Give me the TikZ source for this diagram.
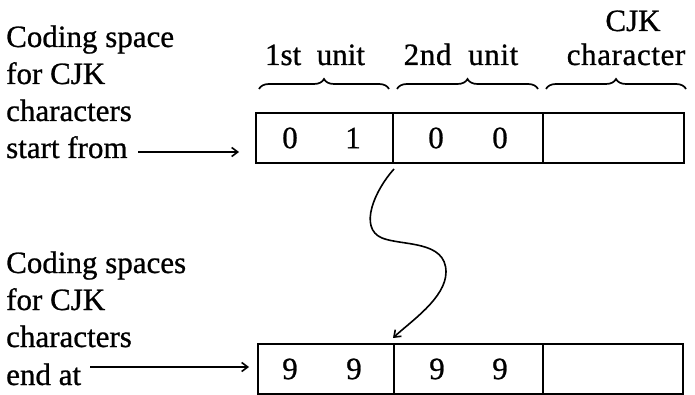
\documentclass[tikz,border=0pt]{standalone}
\usepackage{fontspec}
\setmainfont[FakeBold=0.8]{Liberation Serif}
\usetikzlibrary{arrows.meta,decorations.pathreplacing}

\begin{document}
\begin{tikzpicture}[x=1pt,y=-1pt,
  txt/.style={inner sep=0pt,font=\fontsize{31}{37}\selectfont},
  cell/.style={draw,line width=2pt,inner sep=0pt,minimum height=50pt},
  arr/.style={line width=1.6pt,-{Straight Barb[length=6pt,width=9pt,line width=1.6pt]}},
  ubrace/.style={line width=1.7pt,decorate,decoration={brace,amplitude=10pt}}
]
\useasboundingbox (0,0) rectangle (695,395);

% left-hand captions
\node[txt,anchor=base west] (s1) at (6,47)  {Coding space};
\node[txt,anchor=base west] (s2) at (6,84)  {for CJK};
\node[txt,anchor=base west] (s3) at (6,121) {characters};
\node[txt,anchor=base west] (s4) at (6,158) {start from};

\node[txt,anchor=base west] (e1) at (6,273) {Coding spaces};
\node[txt,anchor=base west] (e2) at (6,310) {for CJK};
\node[txt,anchor=base west] (e3) at (6,347) {characters};
\node[txt,anchor=base west] (e4) at (6,385) {end at};

% upper row of cells
\node[cell,minimum width=137pt] (t1) at (324.5,138) {};
\node[cell,minimum width=150pt] (t2) at (468,138) {};
\node[cell,minimum width=141pt] (t3) at (613.5,138) {};
\node[txt] (d1) at (290,138) {0};
\node[txt] (d2) at (353,138) {1};
\node[txt] (d3) at (436,138) {0};
\node[txt] (d4) at (500,138) {0};

% lower row of cells
\node[cell,minimum width=136pt] (b1) at (326,369) {};
\node[cell,minimum width=149pt] (b2) at (468.5,369) {};
\node[cell,minimum width=140pt] (b3) at (613,369) {};
\node[txt] (n1) at (290,369) {9};
\node[txt] (n2) at (354,369) {9};
\node[txt] (n3) at (437,369) {9};
\node[txt] (n4) at (500,369) {9};

% braces and column headings
\draw[ubrace] ([xshift=4pt,yshift=23pt]t1.north west) -- ([xshift=-5pt,yshift=23pt]t1.north east);
\draw[ubrace] ([xshift=5pt,yshift=23pt]t2.north west) -- ([xshift=-6pt,yshift=23pt]t2.north east);
\draw[ubrace] ([xshift=4pt,yshift=23pt]t3.north west) -- ([xshift=1pt,yshift=23pt]t3.north east);
\node[txt,anchor=base] (h1) at (315,65) {1st\ \ unit};
\node[txt,anchor=base] (h2) at (461,65) {\addfontfeature{LetterSpace=2}2nd\ \ unit};
\node[txt,anchor=base] (h3) at (626,65) {\addfontfeature{LetterSpace=2}character};
\node[txt,anchor=base] (h4) at (633,31) {CJK};

% pointers into the rows
\coordinate (a1) at (138,152);
\draw[arr] (a1) -- ([xshift=-16pt]a1 -| t1.west);
\coordinate (a2) at (90,367);
\draw[arr] (a2) -- ([xshift=-8pt]a2 -| b1.west);

% wavy link from the first row down to the second
\draw[arr] ([yshift=-5pt]t1.south east)
  .. controls (375,190) and (358,228) .. (382,238)
  .. controls (402,246) and (446,240) .. (446,272)
  .. controls (446,298) and (410,322) .. ([yshift=5pt]b2.north west);
\end{tikzpicture}
\end{document}
